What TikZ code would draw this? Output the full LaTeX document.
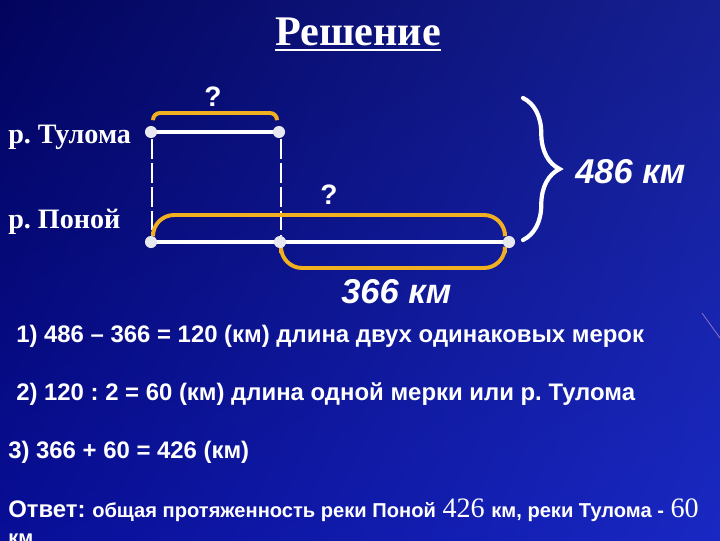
\documentclass[tikz,border=0pt]{standalone}
\usepackage{fontspec}
\setmainfont{Liberation Serif}
\setsansfont{Liberation Sans}
\frenchspacing
\usetikzlibrary{calc,shadings,decorations.pathreplacing}

\definecolor{bgdark}{RGB}{2,4,92}
\definecolor{bgright}{RGB}{22,32,145}
\definecolor{bglow}{RGB}{8,14,150}
\definecolor{bglowright}{RGB}{25,40,195}
\definecolor{measure}{RGB}{240,176,32}
\definecolor{dotgray}{RGB}{232,232,240}
\definecolor{streak}{RGB}{210,160,220}

\begin{document}
\begin{tikzpicture}[x=0.025cm, y=-0.025cm,
    river/.style={white, line width=3.4pt, line cap=round},
    measurebar/.style={draw=measure, line width=2.8pt, rounded corners=#1},
    measurebar/.default=6pt,
    guide/.style={white, line width=0.8pt, dash pattern=on 14pt off 3pt},
    textline/.style={anchor=base west, inner sep=0pt, text=white,
        font=\sffamily\bfseries\fontsize{17}{20}\selectfont},
    rivername/.style={anchor=base west, inner sep=0pt, text=white,
        font=\rmfamily\bfseries\fontsize{20}{23}\selectfont},
    lengthlabel/.style={anchor=base west, inner sep=0pt, text=white,
        font=\sffamily\bfseries\itshape\fontsize{24.5}{28}\selectfont},
    question/.style={anchor=base, inner sep=0pt, text=white,
        font=\sffamily\bfseries\fontsize{20}{24}\selectfont}]

    % Fix the frame and paint the background
    \useasboundingbox (0,0) rectangle (720,540);
    \clip (0,0) rectangle (720,540);
    \shade[upper left=bgdark, upper right=bgright,
           lower left=bglow, lower right=bglowright] (0,0) rectangle (720,540);
    \draw[streak, opacity=0.6, line width=0.6pt] (702,313) -- (720,338);

    % Title, underlined
    \node[anchor=base, inner sep=0pt, text=white,
          font=\rmfamily\bfseries\fontsize{30}{34}\selectfont] (title) at (358,45) {Решение};
    \draw[white, line width=1.4pt] ($(title.base west)+(0pt,-3.6pt)$) -- ($(title.base east)+(0pt,-3.6pt)$);

    % End points of the two rivers
    \coordinate (t1) at (151,132);
    \coordinate (t2) at (279,132);
    \coordinate (p1) at (151,242);
    \coordinate (p2) at (280,242);
    \coordinate (p3) at (509,242);

    % River names
    \node[rivername] (tuloma) at (8,143) {р. Тулома};
    \node[rivername] (ponoy) at (8,228) {р. Поной};

    % Dashed guides from the upper segment down to the lower one
    \draw[guide] ($(t1)+(1,7)$) -- ($(p1)+(1,-7)$);
    \draw[guide] ($(t2)+(2,7)$) -- ($(p2)+(1,-7)$);

    % Yellow measure brackets
    \draw[measurebar=5pt] ($(t1)+(2,-13)$) |- ($(t2)+(-2,-19)$) -- ($(t2)+(-2,-13)$);
    \draw[measurebar=15pt] ($(p1)+(2,-10)$) |- ($(p3)+(-4,-27)$) -- ($(p3)+(-4,-10)$);
    \draw[measurebar=15pt] ($(p2)+(1,11)$) |- ($(p3)+(-4,26)$) -- ($(p3)+(-4,11)$);

    % The two rivers as white segments
    \draw[river] (t1) -- (t2);
    \draw[river] (p1) -- (p2) -- (p3);

    % Dots at the ends of the segments
    \foreach \pt in {t1,t2,p1,p2,p3}
        \fill[dotgray] (\pt) circle (4.3pt);

    % Question marks over the unknown lengths
    \node[question] (qtop) at (213,106) {?};
    \node[question] (qlow) at (329,204) {?};

    % Brace that takes both rivers together
    \coordinate (br1) at (523,98);
    \coordinate (br2) at (523,240);
    \draw[white, line width=3pt, line cap=round, decorate,
          decoration={brace, amplitude=26pt}] (br1) -- (br2);
    \node[lengthlabel] (total) at (575,183) {486 км};
    \node[lengthlabel] (part) at (341,303) {366 км};

    % Steps of the solution
    \node[textline] (step1) at (16,342) {1) 486 – 366 = 120 (км) длина двух одинаковых мерок};
    \node[textline] (step2) at (16,400) {2) 120 : 2 = 60 (км) длина одной мерки или р. Тулома};
    \node[textline] (step3) at (8,458) {3) 366 + 60 = 426 (км)};

    % Answer, running over the lower edge
    \node[textline] (answer) at (8,517) {Ответ: {\fontsize{14.3}{17}\selectfont общая протяженность реки Поной}
        {\rmfamily\mdseries\fontsize{20}{22}\selectfont 426} {\fontsize{14.3}{17}\selectfont км, реки Тулома -}
        {\rmfamily\mdseries\fontsize{20}{22}\selectfont 60}};
    \node[textline, font=\sffamily\bfseries\fontsize{14.3}{17}\selectfont] (answerkm) at (8,544) {км};

\end{tikzpicture}
\end{document}
